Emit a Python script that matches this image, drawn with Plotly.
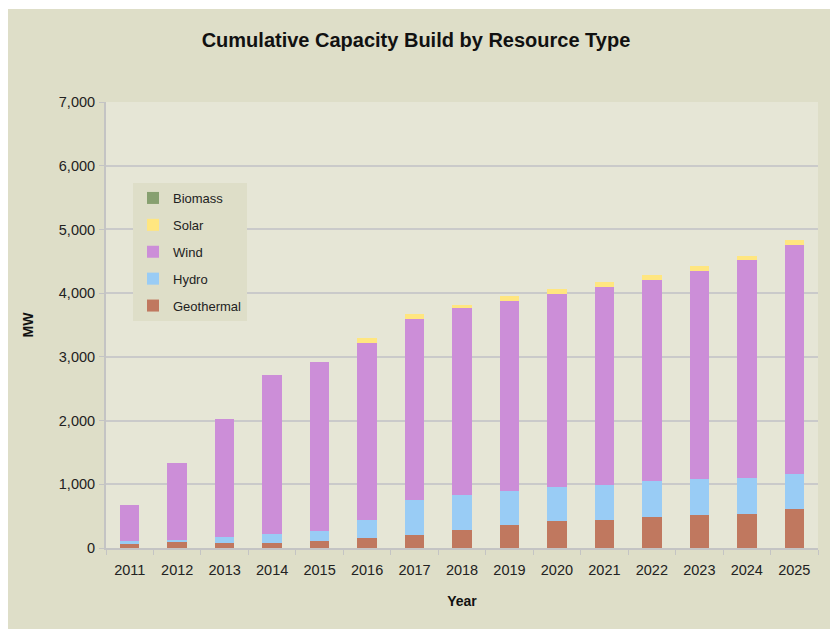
import plotly.graph_objects as go

# Cumulative installed capacity (MW) by resource type, per year
years = ["2011", "2012", "2013", "2014", "2015", "2016", "2017", "2018",
         "2019", "2020", "2021", "2022", "2023", "2024", "2025"]
geothermal = [74, 89, 74, 74, 105, 152, 199, 278, 356, 419, 435, 482, 513, 529, 608]
hydro = [31, 32, 94, 141, 157, 283, 550, 549, 534, 534, 549, 565, 566, 565, 549]
wind = [565, 1209, 1852, 2496, 2653, 2779, 2841, 2936, 2983, 3030, 3109, 3153, 3264, 3422, 3595]
solar = [0, 0, 0, 0, 0, 83, 84, 47, 83, 78, 78, 81, 79, 74, 83]
biomass = [0, 0, 0, 0, 0, 0, 0, 0, 0, 0, 0, 0, 0, 0, 0]

# stacked bottom to top; legend lists them top to bottom
series = [
    ("Geothermal", geothermal, "#C0785F"),
    ("Hydro", hydro, "#99CCF5"),
    ("Wind", wind, "#CC8ED8"),
    ("Solar", solar, "#FFE680"),
    ("Biomass", biomass, "#87A070"),
]

FONT = "Liberation Sans, Arial, sans-serif"
OUTER = "#DEDEC8"
INNER = "#E6E6D6"

fig = go.Figure()
for i, (name, vals, color) in enumerate(series):
    fig.add_trace(go.Bar(
        x=years, y=vals, name=name, legendgroup=name,
        legendrank=len(series) - i,
        marker=dict(color=color, line=dict(width=0)),
    ))

# plot-area geometry in pixels
L, R, T, B = 106, 12, 102, 81
W, H = 830, 629
pw, ph = W - L - R, H - T - B

def px_x(p):
    return (p - L) / pw

def px_y(p):
    return (H - B - p) / ph

fig.update_layout(
    width=W, height=H,
    margin=dict(l=L, r=R, t=T, b=B, pad=0, autoexpand=False),
    paper_bgcolor=OUTER,
    plot_bgcolor=INNER,
    barmode="stack",
    bargap=0.59,
    font=dict(family=FONT, size=14, color="#222222"),
    title=dict(
        text="<b>Cumulative Capacity Build by Resource Type</b>",
        x=416 / W, xanchor="center", xref="container",
        y=1 - 40 / H, yanchor="middle",
        font=dict(family=FONT, size=20, color="#111111"),
    ),
    xaxis=dict(
        type="category",
        automargin=False,
        tickson="boundaries",
        ticks="outside", ticklen=5, tickcolor="#C4C4C4", tickwidth=1,
        ticklabelstandoff=8,
        showline=True, linecolor="#C4C4C4", linewidth=2,
        showgrid=False,
        tickfont=dict(family=FONT, size=14.5, color="#222222"),
        title=dict(text="<b>Year</b>", standoff=19,
                   font=dict(family=FONT, size=14, color="#111111")),
    ),
    yaxis=dict(
        automargin=False,
        range=[0, 7000], dtick=1000, tickformat=",",
        ticks="outside", ticklen=5, tickcolor="#C4C4C4",
        ticklabelstandoff=1,
        showline=True, linecolor="#C4C4C4", linewidth=2,
        showgrid=True, gridcolor="#CACACA", gridwidth=2,
        zeroline=False,
        tickfont=dict(family=FONT, size=14.5, color="#222222"),
        title=dict(text="<b>MW</b>", standoff=22,
                   font=dict(family=FONT, size=14, color="#111111")),
    ),
    legend=dict(
        traceorder="grouped",
        x=px_x(133), y=px_y(183), xanchor="left", yanchor="top",
        bgcolor=OUTER, borderwidth=0,
        font=dict(family=FONT, size=13, color="#222222"),
        tracegroupgap=7,
        itemwidth=30,
    ),
    shapes=[
        # white strips along the left and top edges
        dict(type="rect", xref="paper", yref="paper", layer="below",
             x0=px_x(0), x1=px_x(8), y0=px_y(H), y1=px_y(0),
             fillcolor="white", line=dict(width=0)),
        dict(type="rect", xref="paper", yref="paper", layer="below",
             x0=px_x(0), x1=px_x(W), y0=px_y(9), y1=px_y(0),
             fillcolor="white", line=dict(width=0)),
    ],
)

fig.write_html("out.html")
